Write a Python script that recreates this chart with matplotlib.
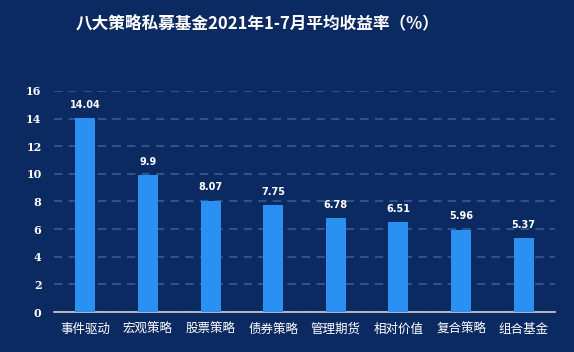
import matplotlib
matplotlib.use("Agg")
import matplotlib.pyplot as plt

plt.rcParams['font.family'] = ['Noto Sans CJK SC', 'DejaVu Sans']

categories = ['事件驱动', '宏观策略', '股票策略', '债券策略', '管理期货', '相对价值', '复合策略', '组合基金']
values = [14.04, 9.9, 8.07, 7.75, 6.78, 6.51, 5.96, 5.37]
value_labels = ['14.04', '9.9', '8.07', '7.75', '6.78', '6.51', '5.96', '5.37']
yticks = [0, 2, 4, 6, 8, 10, 12, 14, 16]
title = '八大策略私募基金2021年1-7月平均收益率（%）'

bg = '#0c2a62'
bar_color = '#2a90f2'

fig = plt.figure(figsize=(5.74, 3.52), dpi=100, facecolor=bg)
ax = fig.add_axes([0.094, 0.1136, 0.873, 0.628])
ax.set_facecolor(bg)

x = list(range(len(categories)))
ax.bar(x, values, width=0.32, color=bar_color, zorder=3)
for xi, v, lab in zip(x, values, value_labels):
    ax.text(xi, v + 0.6, lab, ha='center', va='bottom', color='white',
            fontsize=7, fontweight='bold', family=['DejaVu Sans'])

ax.set_xlim(-0.5, len(categories) - 0.5)
ax.set_ylim(0, 16)
ax.set_yticks(yticks)
ax.set_yticklabels([str(t) for t in yticks], color='white', fontsize=8,
                   fontweight='bold', family=['DejaVu Serif'])
ax.set_xticks(x)
ax.set_xticklabels(categories, color='white', fontsize=9)
ax.tick_params(axis='both', length=0, pad=8)
ax.tick_params(axis='y', pad=9)
ax.grid(axis='y', color='#2f5289', linestyle=(0, (4, 3)), linewidth=1.5, zorder=0)
for s in ['top', 'right', 'left']:
    ax.spines[s].set_visible(False)
ax.spines['bottom'].set_color('#d0d0d0')
ax.spines['bottom'].set_linewidth(1.2)

fig.text(0.448, 0.935, title, ha='center', va='center', color='white',
         fontsize=12, fontweight='bold')

fig.savefig('out.png', dpi=100, facecolor=bg)
